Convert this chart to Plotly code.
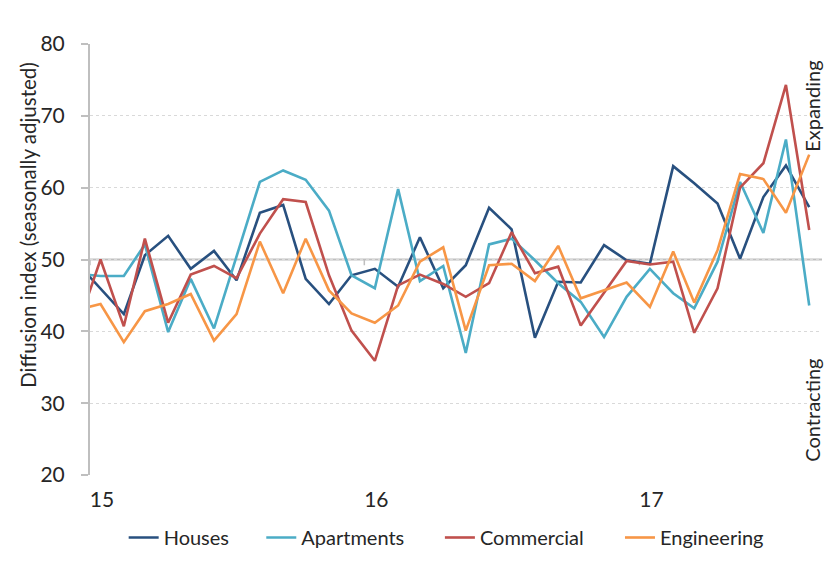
import pandas as pd
import plotly.graph_objects as go

# Monthly observations, Dec 2014 (clipped at the axis edge) to Aug 2017
months = pd.date_range("2014-12-01", periods=33, freq="MS") + pd.Timedelta(days=14)

houses = [49.5, 46.0, 42.4, 50.6, 53.3, 48.7, 51.2, 47.1, 56.5, 57.6, 47.3, 43.8,
          47.8, 48.7, 46.2, 53.1, 46.0, 49.2, 57.2, 54.2, 39.1, 46.9, 46.8, 52.0,
          49.9, 49.4, 63.0, 60.6, 57.8, 50.1, 58.7, 63.1, 57.3]
apartments = [48.0, 47.7, 47.7, 52.1, 39.9, 47.3, 40.4, 50.3, 60.8, 62.4, 61.1, 56.8,
              47.8, 46.0, 59.8, 47.0, 49.1, 37.0, 52.1, 52.9, 49.9, 46.7, 44.1, 39.2,
              44.8, 48.7, 45.3, 43.2, 49.7, 60.8, 53.7, 66.7, 43.6]
commercial = [40.5, 50.0, 40.7, 52.9, 41.2, 47.9, 49.1, 47.4, 53.6, 58.4, 58.0, 47.8,
              40.1, 35.9, 46.4, 47.9, 46.6, 44.8, 46.7, 53.8, 48.1, 49.0, 40.8, 45.3,
              49.8, 49.3, 49.7, 39.8, 46.0, 60.0, 63.4, 74.3, 54.1]
engineering = [43.0, 43.8, 38.5, 42.8, 43.8, 45.2, 38.7, 42.4, 52.5, 45.3, 52.9, 45.7,
               42.5, 41.2, 43.6, 49.7, 51.7, 40.1, 49.2, 49.4, 47.0, 51.9, 44.6, 45.7,
               46.8, 43.4, 51.1, 44.0, 51.3, 61.9, 61.2, 56.5, 64.6]

series_names = ["Houses", "Apartments", "Commercial", "Engineering"]
series_colors = ["#28507F", "#4BACC6", "#C0504D", "#F79646"]
series_values = [houses, apartments, commercial, engineering]

year_starts = ["2015-01-01", "2016-01-01", "2017-01-01"]
year_label_pos = ["2015-01-17", "2016-01-17", "2017-01-17"]
year_labels = ["15", "16", "17"]
y_ticks = [20, 30, 40, 50, 60, 70, 80]

FONT = "Lato, Liberation Sans, sans-serif"
TXT = "#262626"
AXC = "#BFBFBF"

fig = go.Figure()
legend_x = [0.046, 0.234, 0.478, 0.724]
for i, (name, col, vals) in enumerate(zip(series_names, series_colors, series_values)):
    fig.add_trace(go.Scatter(
        x=months, y=vals, mode="lines", name=name,
        line=dict(color=col, width=2.6),
        legend="legend" if i == 0 else f"legend{i+1}",
    ))

legend_common = dict(orientation="h", yanchor="middle", y=-0.145, xanchor="left",
                     font=dict(family=FONT, size=20, color=TXT),
                     bgcolor="rgba(0,0,0,0)", itemwidth=30)
layout_legends = {}
for i in range(4):
    key = "legend" if i == 0 else f"legend{i+1}"
    layout_legends[key] = dict(legend_common, x=legend_x[i])

# page adds an 8px body margin, so the figure is 8px smaller and margins shifted
fig.update_layout(
    width=832, height=572,
    margin=dict(l=82, r=18, t=36, b=105),
    paper_bgcolor="white", plot_bgcolor="white",
    font=dict(family=FONT, size=20, color=TXT),
    showlegend=True,
    **layout_legends,
)

fig.update_xaxes(
    type="date", range=["2015-01-01", "2017-09-01"],
    tickvals=year_label_pos, ticktext=year_labels,
    showgrid=False, zeroline=False, showline=False, ticks="",
    ticklabelstandoff=10,
    tickfont=dict(family=FONT, size=21, color=TXT),
)
fig.update_yaxes(
    range=[20, 80], tickvals=y_ticks,
    showgrid=True, gridcolor="#D9D9D9", griddash="dot", gridwidth=1,
    zeroline=False, showline=True, linecolor=AXC, linewidth=2,
    ticks="outside", ticklen=7, tickcolor=AXC, tickwidth=1.5,
    ticklabelstandoff=12,
    tickfont=dict(family=FONT, size=21, color=TXT),
)

# x-axis line crossing at 50, with year tick marks
fig.add_shape(type="line", xref="paper", yref="y", x0=0, x1=1, y0=50, y1=50,
              line=dict(color=AXC, width=2), layer="below")
for ys in year_starts:
    fig.add_shape(type="line", xref="x", yref="y", x0=ys, x1=ys, y0=50, y1=49.2,
                  line=dict(color=AXC, width=1.5), layer="below")

fig.add_annotation(text="Diffusion index (seasonally adjusted)", textangle=-90,
                   xref="paper", yref="paper", x=-0.085, y=0.58,
                   xanchor="center", yanchor="middle", showarrow=False,
                   font=dict(family=FONT, size=20.5, color=TXT))
fig.add_annotation(text="Expanding", textangle=-90,
                   xref="paper", yref="paper", x=0.986, y=0.856,
                   xanchor="center", yanchor="middle", showarrow=False,
                   font=dict(family=FONT, size=20, color=TXT))
fig.add_annotation(text="Contracting", textangle=-90,
                   xref="paper", yref="paper", x=0.986, y=0.151,
                   xanchor="center", yanchor="middle", showarrow=False,
                   font=dict(family=FONT, size=20, color=TXT))

fig.write_html("out.html")
